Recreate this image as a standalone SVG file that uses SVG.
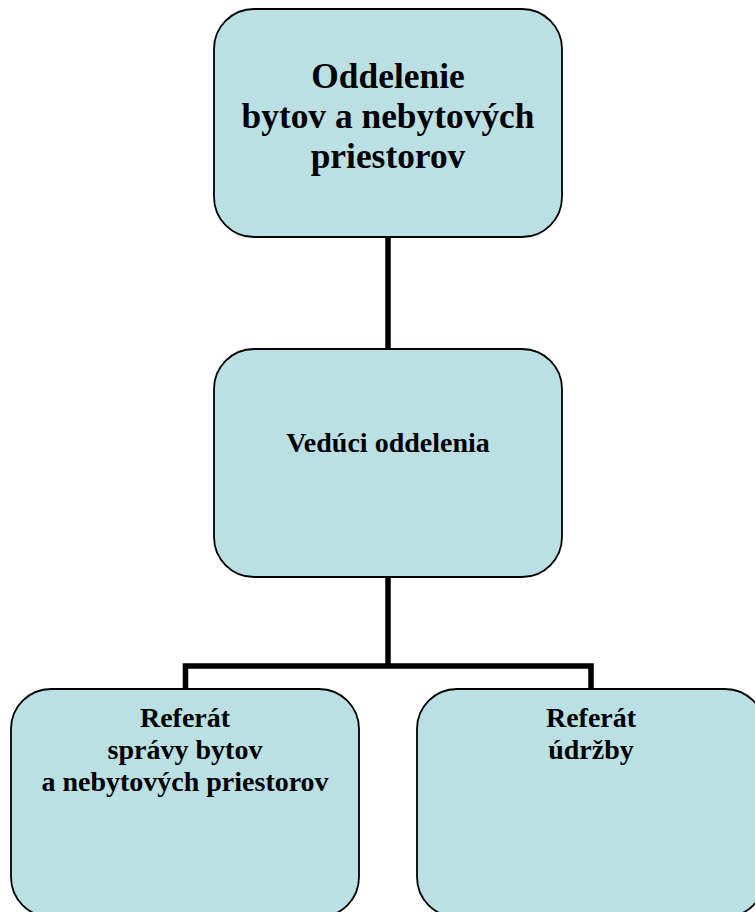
<svg xmlns="http://www.w3.org/2000/svg" width="755" height="912" viewBox="0 0 755 912">
<style>
.box{fill:#BBE0E3;stroke:#000;stroke-width:1.8}
.t{font-family:"Liberation Serif","Times New Roman",serif;font-weight:bold;fill:#000;text-anchor:middle}
.conn{fill:none;stroke:#000;stroke-width:5.5;stroke-linejoin:miter}
</style>
<rect width="755" height="912" fill="#fff"/>
<g id="connectors">
<path class="conn" d="M388,237 V349"/>
<path class="conn" d="M388,577 V666"/>
<path class="conn" d="M185.5,689 V666 H591 V689"/>
</g>
<g id="n1">
<rect class="box" x="214" y="9" width="348" height="228" rx="40" ry="40"/>
<text class="t" font-size="35.4"><tspan x="388" y="88">Oddelenie</tspan><tspan x="388" y="128">bytov a nebytových</tspan><tspan x="388" y="168">priestorov</tspan></text>
</g>
<g id="n2">
<rect class="box" x="214" y="349" width="348" height="228" rx="40" ry="40"/>
<text class="t" font-size="28" x="388" y="452">Vedúci oddelenia</text>
</g>
<g id="n3">
<rect class="box" x="11" y="689" width="348" height="228" rx="40" ry="40"/>
<text class="t" font-size="28"><tspan x="185" y="727">Referát</tspan><tspan x="185" y="759">správy bytov</tspan><tspan x="185" y="791">a nebytových priestorov</tspan></text>
</g>
<g id="n4">
<rect class="box" x="417" y="689" width="348" height="228" rx="40" ry="40"/>
<text class="t" font-size="28"><tspan x="591" y="727">Referát</tspan><tspan x="591" y="759">údržby</tspan></text>
</g>
</svg>
